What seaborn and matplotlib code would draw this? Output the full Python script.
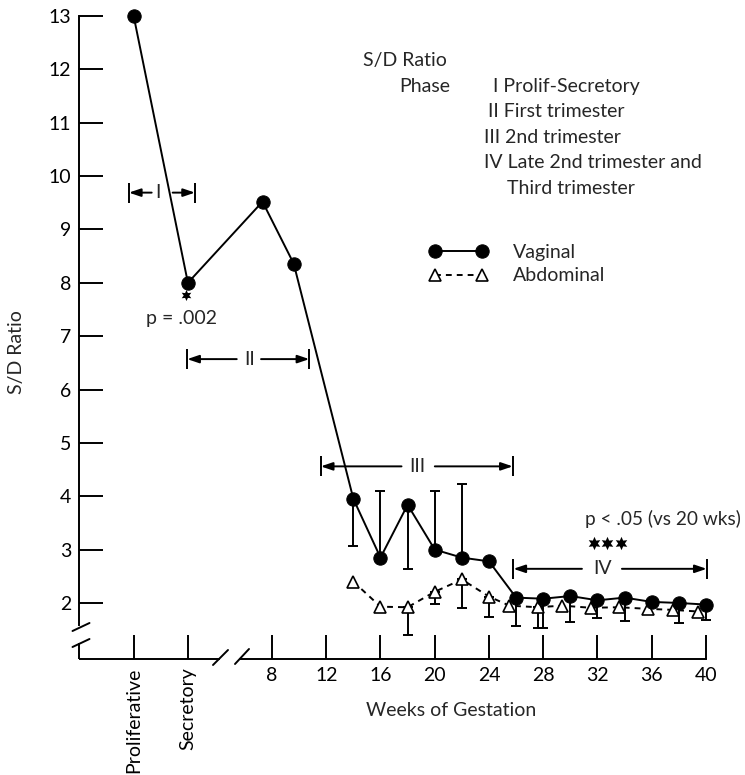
import numpy as np
import matplotlib
matplotlib.use("Agg")
import matplotlib.pyplot as plt
from matplotlib.lines import Line2D
import seaborn as sns

nan = np.nan

# ---------------- data ----------------
phase_tick_labels = ["Proliferative", "Secretory"]
phase_tick_pos = [-2.2, 1.8]
week_ticks = [8, 12, 16, 20, 24, 28, 32, 36, 40]
y_ticks = list(range(2, 14))

vag_x = [-2.2, 1.8, 7.3, 9.6, 14, 16, 18, 20, 22, 24, 26, 28, 30, 32, 34, 36, 38, 40]
vag_y = [13.0, 8.0, 9.52, 8.36, 3.95, 2.85, 3.84, 3.0, 2.85, 2.78,
         2.10, 2.08, 2.13, 2.05, 2.10, 2.02, 2.00, 1.97]
vag_err_end = [nan, nan, nan, nan, 3.06, 4.09, 2.64, 4.10, 4.23, nan,
               1.57, 1.54, 1.65, 1.71, 1.66, nan, 1.63, 1.69]

abd_x = [14, 16, 18, 20, 22, 24, 25.5, 27.6, 29.4, 31.5, 33.6, 35.7, 37.6, 39.4]
abd_y = [2.40, 1.93, 1.92, 2.21, 2.44, 2.12, 1.95, 1.92, 1.95, 1.91, 1.92, 1.89, 1.87, 1.84]
abd_err_end = [nan, nan, 1.40, 1.98, 1.90, 1.73, nan, 1.54, nan, nan, nan, nan, nan, nan]

phase_names = ["I", "II", "III", "IV"]
phase_start = [-2.55, 1.75, 11.6, 25.8]
phase_end = [2.32, 10.75, 25.75, 40.05]
phase_y = [9.69, 6.57, 4.56, 2.64]
phase_label_x = [-0.43, 6.33, 18.7, 32.4]

phase_desc = ["I Prolif-Secretory", "II First trimester", "III 2nd trimester",
              "IV Late 2nd trimester and", "Third trimester"]

# ---------------- style ----------------
W, H = 745, 775
sns.set_style("ticks")
plt.rcParams["font.family"] = ["Lato", "DejaVu Sans"]
FS = 14
LW = 1.4

fig = plt.figure(figsize=(W / 100, H / 100), dpi=100)
ax = fig.add_axes([79 / W, 1 - 659 / H, 627 / W, 643 / H])

XMIN, XMAX = -6.23, 40.0
YMIN, YMAX = 0.95, 13.0
ax.set_xlim(XMIN, XMAX)
ax.set_ylim(YMIN, YMAX)


# error bars
def draw_err(xs, ys, ends, z):
    xs = np.asarray(xs, float); ys = np.asarray(ys, float); ends = np.asarray(ends, float)
    m = ~np.isnan(ends)
    lo = np.where(ends[m] < ys[m], ys[m] - ends[m], 0)
    hi = np.where(ends[m] > ys[m], ends[m] - ys[m], 0)
    ax.errorbar(xs[m], ys[m], yerr=[lo, hi], fmt="none", ecolor="black",
                elinewidth=LW, capsize=3.3, capthick=LW, zorder=z, clip_on=False)


draw_err(abd_x, abd_y, abd_err_end, 2)
draw_err(vag_x, vag_y, vag_err_end, 2.5)

sns.lineplot(x=vag_x, y=vag_y, ax=ax, color="black", lw=LW, marker="o",
             markersize=9.6, markerfacecolor="black", markeredgecolor="black",
             errorbar=None, sort=False, label="Vaginal", zorder=4, clip_on=False)
sns.lineplot(x=abd_x, y=abd_y, ax=ax, color="black", lw=LW, marker="^",
             markersize=8.3, markerfacecolor="white", markeredgecolor="black",
             markeredgewidth=1.2, linestyle=(0, (3, 2.6)),
             errorbar=None, sort=False, label="Abdominal", zorder=3, clip_on=False)

# ---------------- axes ----------------
ax.set_xticks(phase_tick_pos + week_ticks)
ax.set_xticklabels(phase_tick_labels + [str(w) for w in week_ticks])
for lab in ax.get_xticklabels()[:2]:
    lab.set_rotation(90)
ax.set_yticks(y_ticks)
ax.set_yticklabels([str(v) for v in y_ticks])
ax.tick_params(axis="both", direction="in", length=17.3, width=LW,
               labelsize=FS, colors="black")
ax.tick_params(axis="x", pad=6)
ax.tick_params(axis="y", pad=5.5)

for s in ["top", "right"]:
    ax.spines[s].set_visible(False)
for s in ["left", "bottom"]:
    ax.spines[s].set_linewidth(LW)
    ax.spines[s].set_color("black")

# axis breaks
ybreak_hi, ybreak_lo = 1.59, 1.25
xbreak_lo, xbreak_hi = 4.17, 5.64
ax.spines["left"].set_bounds(ybreak_hi, YMAX)
ax.spines["bottom"].set_bounds(xbreak_hi, XMAX)
ax.plot([XMIN, XMIN], [YMIN, ybreak_lo], color="black", lw=LW, clip_on=False,
        solid_capstyle="butt")
ax.plot([XMIN, xbreak_lo], [YMIN, YMIN], color="black", lw=LW, clip_on=False,
        solid_capstyle="butt")


def fline(x0, y0, x1, y1):
    fig.add_artist(Line2D([x0 / W, x1 / W], [1 - y0 / H, 1 - y1 / H],
                          transform=fig.transFigure, color="black", lw=LW))


def fstar(x, y, size):
    fig.add_artist(Line2D([x / W], [1 - y / H], transform=fig.transFigure,
                          marker=(6, 1, 0), ms=size, color="black",
                          markeredgewidth=0, ls="none"))


def ftext(x, y, s, **kw):
    kw.setdefault("fontsize", FS)
    kw.setdefault("va", "center")
    kw.setdefault("ha", "left")
    fig.text(x / W, 1 - y / H, s, **kw)


fline(72.5, 631, 89.5, 623)
fline(72.5, 647, 89.5, 639)
fline(213, 665, 228, 650)
fline(235, 664, 249, 649)

ax.set_ylabel("S/D Ratio", fontsize=FS)
ax.yaxis.set_label_coords((16.7 - 79) / 627, (659 - 352) / 643)
ax.yaxis.label.set_va("center")
ax.set_xlabel("Weeks of Gestation", fontsize=FS)
ax.xaxis.set_label_coords((450.7 - 79) / 627, (659 - 710) / 643)
ax.xaxis.label.set_va("center")

# ---------------- phase brackets ----------------
px_per_x = 627 / (XMAX - XMIN)
gaps = [(6, 15), (12.6, 11.7), (15.6, 17.7), (21, 19)]
for name, x0, x1, y, lx, (gl, gr) in zip(phase_names, phase_start, phase_end,
                                          phase_y, phase_label_x, gaps):
    ax.plot([x0, x1], [y, y], ls="none", marker="|", ms=13.7, mew=LW,
            color="black", clip_on=False)
    ax.text(lx, y, name, fontsize=FS, ha="center", va="center")
    arr = dict(arrowstyle="-|>,head_length=0.5,head_width=0.17", color="black",
               lw=LW, shrinkA=0, shrinkB=0, mutation_scale=14)
    ax.annotate("", xy=(x0, y), xytext=(lx - gl / px_per_x, y), arrowprops=arr,
                annotation_clip=False)
    ax.annotate("", xy=(x1, y), xytext=(lx + gr / px_per_x, y), arrowprops=arr,
                annotation_clip=False)

# ---------------- annotations ----------------
ftext(181, 318, "p = .002", ha="center")
fstar(186, 295, 8.0)
ftext(585, 519, "p < .05 (vs 20 wks)", fontsize=13.7)
for sx in (593.5, 607.2, 620.9):
    fstar(sx, 542.5, 9.6)

ftext(363, 60.7, "S/D Ratio")
ftext(399, 86.7, "Phase")
desc_pos = [(493, 86.7), (488, 111.7), (484, 137.7), (484, 163), (507, 189)]
for s, (x, y) in zip(phase_desc, desc_pos):
    ftext(x, y, s)

# legend
handles, labels = ax.get_legend_handles_labels()
ax.legend(handles, labels, numpoints=2, handlelength=3.0, handletextpad=1.3,
          labelspacing=0.35, frameon=False, fontsize=FS, borderpad=0,
          borderaxespad=0, loc="center left",
          bbox_to_anchor=(429 / W, 1 - 264 / H), bbox_transform=fig.transFigure)

fig.savefig("out.png", dpi=100)
